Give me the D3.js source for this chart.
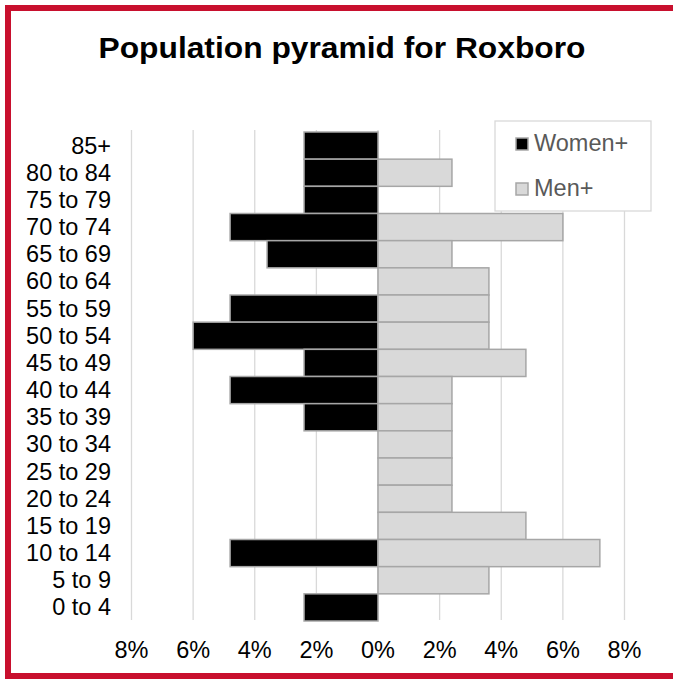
<!DOCTYPE html>
<html>
<head>
<meta charset="utf-8">
<script src="https://cdn.jsdelivr.net/npm/d3@7"></script>
<style>
  html, body { margin: 0; padding: 0; background: #fff; }
  text { font-family: "Liberation Sans", Arial, sans-serif; }
</style>
</head>
<body>
<div id="chart"></div>
<script>
// age groups, top to bottom
const ageGroups = ['85+', '80 to 84', '75 to 79', '70 to 74', '65 to 69', '60 to 64', '55 to 59',
  '50 to 54', '45 to 49', '40 to 44', '35 to 39', '30 to 34', '25 to 29', '20 to 24',
  '15 to 19', '10 to 14', '5 to 9', '0 to 4'];
// percent of population
const women = [2.4, 2.4, 2.4, 4.8, 3.6, 0, 4.8, 6.0, 2.4, 4.8, 2.4, 0, 0, 0, 0, 4.8, 0, 2.4];
const men = [0, 2.4, 0, 6.0, 2.4, 3.6, 3.6, 3.6, 4.8, 2.4, 2.4, 2.4, 2.4, 2.4, 4.8, 7.2, 3.6, 0];
const xTicks = [-8, -6, -4, -2, 0, 2, 4, 6, 8];
const seriesNames = ['Women+', 'Men+'];

const WIDTH = 673;
const HEIGHT = 679;
const PLOT_TOP = 132;
const PLOT_BOTTOM = 621;
const FONT = '23.5px';

const svg = d3.select('#chart')
  .append('svg')
  .attr('width', WIDTH)
  .attr('height', HEIGHT);

// red frame (right side runs off the page)
svg.append('rect')
  .attr('x', 8)
  .attr('y', 8)
  .attr('width', 700)
  .attr('height', 668)
  .attr('fill', '#fff')
  .attr('stroke', '#c8102e')
  .attr('stroke-width', 6);

svg.append('text')
  .attr('x', 342)
  .attr('y', 58)
  .attr('text-anchor', 'middle')
  .attr('textLength', 487)
  .attr('lengthAdjust', 'spacingAndGlyphs')
  .style('font-size', '29px')
  .style('font-weight', 'bold')
  .attr('fill', '#000')
  .text('Population pyramid for Roxboro');

const x = d3.scaleLinear().domain([-8, 8]).range([131.5, 624.5]);
const y = d3.scaleBand().domain(ageGroups).range([PLOT_TOP, PLOT_BOTTOM]).padding(0);

// gridlines
svg.append('g')
  .selectAll('line')
  .data(xTicks)
  .join('line')
  .attr('x1', d => x(d))
  .attr('x2', d => x(d))
  .attr('y1', 130)
  .attr('y2', 620)
  .attr('stroke', '#d9d9d9')
  .attr('stroke-width', 1.3);

// tick labels
svg.append('g')
  .selectAll('text')
  .data(xTicks)
  .join('text')
  .attr('x', d => x(d))
  .attr('y', 658)
  .attr('text-anchor', 'middle')
  .style('font-size', FONT)
  .attr('fill', '#000')
  .text(d => Math.abs(d) + '%');

// category labels
svg.append('g')
  .selectAll('text')
  .data(ageGroups)
  .join('text')
  .attr('x', 111)
  .attr('y', d => y(d) + y.bandwidth() / 2)
  .attr('dy', '0.34em')
  .attr('text-anchor', 'end')
  .style('font-size', FONT)
  .attr('fill', '#000')
  .text(d => d);

// women bars (left)
svg.append('g')
  .selectAll('rect')
  .data(ageGroups.map((a, i) => ({ age: a, v: women[i] })).filter(d => d.v > 0))
  .join('rect')
  .attr('x', d => x(-d.v))
  .attr('y', d => y(d.age))
  .attr('width', d => x(0) - x(-d.v))
  .attr('height', y.bandwidth())
  .attr('fill', '#000')
  .attr('stroke', '#a6a6a6')
  .attr('stroke-width', 1.5);

// men bars (right)
svg.append('g')
  .selectAll('rect')
  .data(ageGroups.map((a, i) => ({ age: a, v: men[i] })).filter(d => d.v > 0))
  .join('rect')
  .attr('x', x(0))
  .attr('y', d => y(d.age))
  .attr('width', d => x(d.v) - x(0))
  .attr('height', y.bandwidth())
  .attr('fill', '#d9d9d9')
  .attr('stroke', '#a6a6a6')
  .attr('stroke-width', 1.5);

// legend
const legend = svg.append('g');
legend.append('rect')
  .attr('x', 495)
  .attr('y', 121)
  .attr('width', 156)
  .attr('height', 90)
  .attr('fill', '#fff')
  .attr('stroke', '#d9d9d9')
  .attr('stroke-width', 1.3);

const legendColors = ['#000', '#d9d9d9'];
const items = legend.selectAll('g.item')
  .data(seriesNames)
  .join('g')
  .attr('class', 'item')
  .attr('transform', (d, i) => `translate(516,${138 + i * 45})`);

items.append('rect')
  .attr('width', 12)
  .attr('height', 12)
  .attr('fill', (d, i) => legendColors[i])
  .attr('stroke', '#a6a6a6')
  .attr('stroke-width', 1.5);

items.append('text')
  .attr('x', 18)
  .attr('y', 13)
  .style('font-size', FONT)
  .attr('fill', '#595959')
  .text(d => d);
</script>
</body>
</html>
